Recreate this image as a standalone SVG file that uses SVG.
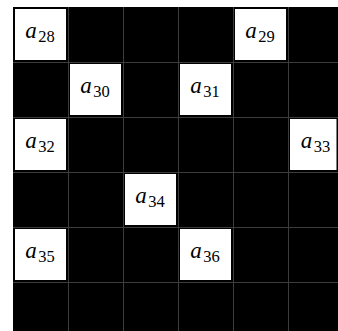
<svg xmlns="http://www.w3.org/2000/svg" width="338" height="331" viewBox="0 0 338 331">
<style>
.bg{fill:#000}
.grid line{stroke:#3c3c3c;stroke-width:1}
.cell{fill:#fff}
.lbl{font-family:"Liberation Serif","DejaVu Serif",serif;font-size:23px;fill:#000;text-anchor:middle}
.v{font-style:italic}
.s{font-size:16.5px}
</style>
<rect x="0" y="0" width="338" height="331" fill="#fff"/>
<rect class="bg" x="13" y="7" width="325" height="324"/>
<g class="grid" id="connectors">
<line x1="68.5" y1="7" x2="68.5" y2="331"/>
<line x1="123.5" y1="7" x2="123.5" y2="331"/>
<line x1="178.5" y1="7" x2="178.5" y2="331"/>
<line x1="233.5" y1="7" x2="233.5" y2="331"/>
<line x1="288.5" y1="7" x2="288.5" y2="331"/>
<line x1="13" y1="62.5" x2="338" y2="62.5"/>
<line x1="13" y1="117.5" x2="338" y2="117.5"/>
<line x1="13" y1="172.5" x2="338" y2="172.5"/>
<line x1="13" y1="227.5" x2="338" y2="227.5"/>
<line x1="13" y1="282.5" x2="338" y2="282.5"/>
</g>
<g id="a28"><rect class="cell" x="15" y="9" width="51" height="51"/><text class="lbl" x="40" y="37.5"><tspan class="v">a</tspan><tspan class="s" dx="1.5" dy="4.3">28</tspan></text></g>
<g id="a29"><rect class="cell" x="235" y="9" width="51" height="51"/><text class="lbl" x="260" y="37.5"><tspan class="v">a</tspan><tspan class="s" dx="1.5" dy="4.3">29</tspan></text></g>
<g id="a30"><rect class="cell" x="70" y="64" width="51" height="51"/><text class="lbl" x="95" y="92.5"><tspan class="v">a</tspan><tspan class="s" dx="1.5" dy="4.3">30</tspan></text></g>
<g id="a31"><rect class="cell" x="180" y="64" width="51" height="51"/><text class="lbl" x="205" y="92.5"><tspan class="v">a</tspan><tspan class="s" dx="1.5" dy="4.3">31</tspan></text></g>
<g id="a32"><rect class="cell" x="15" y="119" width="51" height="51"/><text class="lbl" x="40" y="147.5"><tspan class="v">a</tspan><tspan class="s" dx="1.5" dy="4.3">32</tspan></text></g>
<g id="a33"><rect class="cell" x="290" y="119" width="46.5" height="51"/><text class="lbl" x="315.5" y="147.5"><tspan class="v">a</tspan><tspan class="s" dx="1.5" dy="4.3">33</tspan></text></g>
<g id="a34"><rect class="cell" x="125" y="174" width="51" height="51"/><text class="lbl" x="150" y="202.5"><tspan class="v">a</tspan><tspan class="s" dx="1.5" dy="4.3">34</tspan></text></g>
<g id="a35"><rect class="cell" x="15" y="229" width="51" height="51"/><text class="lbl" x="40" y="257.5"><tspan class="v">a</tspan><tspan class="s" dx="1.5" dy="4.3">35</tspan></text></g>
<g id="a36"><rect class="cell" x="180" y="229" width="51" height="51"/><text class="lbl" x="205" y="257.5"><tspan class="v">a</tspan><tspan class="s" dx="1.5" dy="4.3">36</tspan></text></g>
</svg>
